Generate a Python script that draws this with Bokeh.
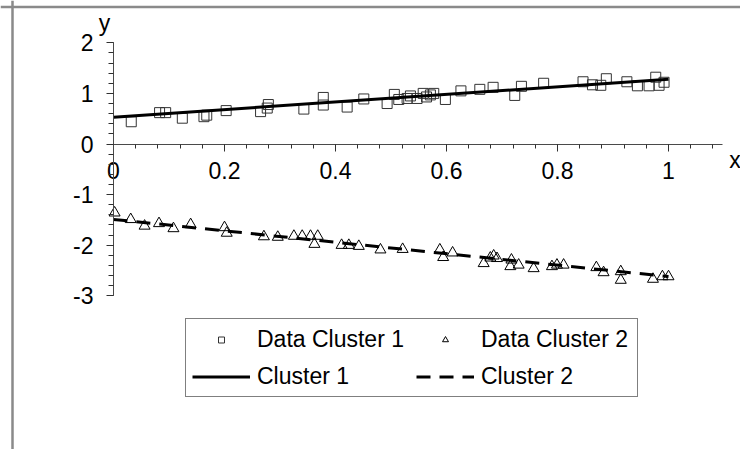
from bokeh.plotting import figure
from bokeh.models import (Range1d, SingleIntervalTicker, Span, Label, Legend,
                          LegendItem, CustomJSTickFormatter)
from bokeh.embed import file_html
from bokeh.resources import INLINE

# ---------------- data ----------------
c1_x = [0.032, 0.083, 0.094, 0.124, 0.163, 0.168, 0.203, 0.265, 0.277, 0.279,
        0.343, 0.378, 0.378, 0.421, 0.451, 0.493, 0.506, 0.514, 0.529, 0.535,
        0.547, 0.558, 0.564, 0.571, 0.577, 0.598, 0.626, 0.660, 0.684, 0.723,
        0.735, 0.775, 0.846, 0.863, 0.878, 0.888, 0.925, 0.944, 0.965, 0.977,
        0.983, 0.992]
c1_y = [0.44, 0.62, 0.62, 0.51, 0.54, 0.57, 0.66, 0.64, 0.71, 0.78,
        0.69, 0.92, 0.77, 0.73, 0.89, 0.80, 0.98, 0.88, 0.90, 0.95,
        0.90, 1.00, 0.93, 0.97, 1.00, 0.88, 1.05, 1.08, 1.12, 0.96,
        1.14, 1.20, 1.23, 1.17, 1.16, 1.29, 1.23, 1.15, 1.15, 1.32,
        1.16, 1.22]
c2_x = [0.002, 0.031, 0.056, 0.082, 0.108, 0.139, 0.200, 0.204, 0.271, 0.296,
        0.325, 0.340, 0.355, 0.368, 0.362, 0.411, 0.424, 0.442, 0.481, 0.521,
        0.588, 0.594, 0.611, 0.667, 0.679, 0.685, 0.691, 0.717, 0.715, 0.730,
        0.757, 0.790, 0.799, 0.811, 0.870, 0.883, 0.914, 0.914, 0.972, 0.989,
        1.000]
c2_y = [-1.36, -1.49, -1.62, -1.57, -1.67, -1.59, -1.65, -1.76, -1.83, -1.84,
        -1.82, -1.82, -1.82, -1.82, -1.98, -2.00, -2.00, -2.02, -2.09, -2.08,
        -2.09, -2.24, -2.15, -2.36, -2.25, -2.21, -2.26, -2.29, -2.42, -2.39,
        -2.46, -2.42, -2.39, -2.39, -2.44, -2.54, -2.52, -2.69, -2.67, -2.62,
        -2.62]
fit_x = [0.0, 1.0]
fit1_y = [0.53, 1.28]
fit2_y = [-1.49, -2.62]

series_labels = ["Data Cluster 1", "Data Cluster 2", "Cluster 1", "Cluster 2"]
axis_names = ["x", "y"]

# ---------------- geometry ----------------
W, H = 740, 449
PX0, PXU = 113.0, 555.0     # canvas x of data x=0, px per x unit
PY0, PYU = 143.5, 50.6      # canvas y of data y=0, px per y unit

x_range = Range1d(-PX0 / PXU, (W - PX0) / PXU)
y_range = Range1d(-(H - PY0) / PYU, PY0 / PYU)

p = figure(width=W, height=H, x_range=x_range, y_range=y_range,
           toolbar_location=None, output_backend="svg", min_border=0)
p.grid.visible = False
p.outline_line_color = None
p.background_fill_color = "white"
p.border_fill_color = "white"

FONT = "Liberation Sans"
FS = "23px"

for ax in (p.xaxis[0], p.yaxis[0]):
    ax.fixed_location = 0
    ax.axis_line_color = "#4a4a4a"
    ax.axis_line_width = 1
    ax.major_tick_line_color = "#303030"
    ax.minor_tick_line_color = "#303030"
    ax.major_tick_in = 0
    ax.minor_tick_in = 0
    ax.major_label_text_font = FONT
    ax.major_label_text_font_size = FS
    ax.major_label_text_color = "black"

p.xaxis.bounds = (0, 1.097)
p.xaxis.ticker = SingleIntervalTicker(interval=0.2, num_minor_ticks=5)
p.xaxis.formatter = CustomJSTickFormatter(code="return String(Math.round(tick*100)/100)")
p.xaxis.major_tick_out = 7
p.xaxis.minor_tick_out = 4
p.xaxis.major_label_standoff = 11

p.yaxis.bounds = (-3, 2)
p.yaxis.ticker = SingleIntervalTicker(interval=1, num_minor_ticks=5)
p.yaxis.formatter = CustomJSTickFormatter(code="return String(Math.round(tick))")
p.yaxis.major_tick_out = 7
p.yaxis.minor_tick_out = 5
p.yaxis.major_label_standoff = 13

# outer gray frame lines (left and top)
p.add_layout(Span(location=(12 - PX0) / PXU, dimension="height",
                  line_color="#8a8a8a", line_width=2.5))
p.add_layout(Span(location=(PY0 - 6.5) / PYU, dimension="width",
                  line_color="#8a8a8a", line_width=2.5))

# data
r1 = p.scatter(c1_x, c1_y, marker="square", size=10, fill_color=None,
               line_color="#333333", line_width=1)
r2 = p.scatter(c2_x, c2_y, marker="triangle", size=11, fill_color=None,
               line_color="black", line_width=1)
l1 = p.line(fit_x, fit1_y, line_color="black", line_width=3)
l2 = p.line(fit_x, fit2_y, line_color="black", line_width=3, line_dash="14 9")

# axis names
p.add_layout(Label(x=1.12, y=-0.326, text=axis_names[0], text_font=FONT,
                   text_font_size=FS, text_align="center",
                   text_baseline="middle", text_color="black"))
p.add_layout(Label(x=-0.016, y=2.40, text=axis_names[1], text_font=FONT,
                   text_font_size=FS, text_align="center",
                   text_baseline="middle", text_color="black"))

legend = Legend(
    items=[LegendItem(label=series_labels[0], renderers=[r1]),
           LegendItem(label=series_labels[1], renderers=[r2]),
           LegendItem(label=series_labels[2], renderers=[l1]),
           LegendItem(label=series_labels[3], renderers=[l2])],
    location=(185, 52), orientation="horizontal", ncols=2,
    glyph_width=58, glyph_height=15, label_height=28, label_width=150,
    label_standoff=7, spacing=9, padding=6, margin=0,
    border_line_color="black", border_line_width=1,
    background_fill_color="white", background_fill_alpha=1.0,
    label_text_font=FONT, label_text_font_size=FS, label_text_color="black",
)
p.add_layout(legend)

open("out.html", "w").write(file_html(p, INLINE))
